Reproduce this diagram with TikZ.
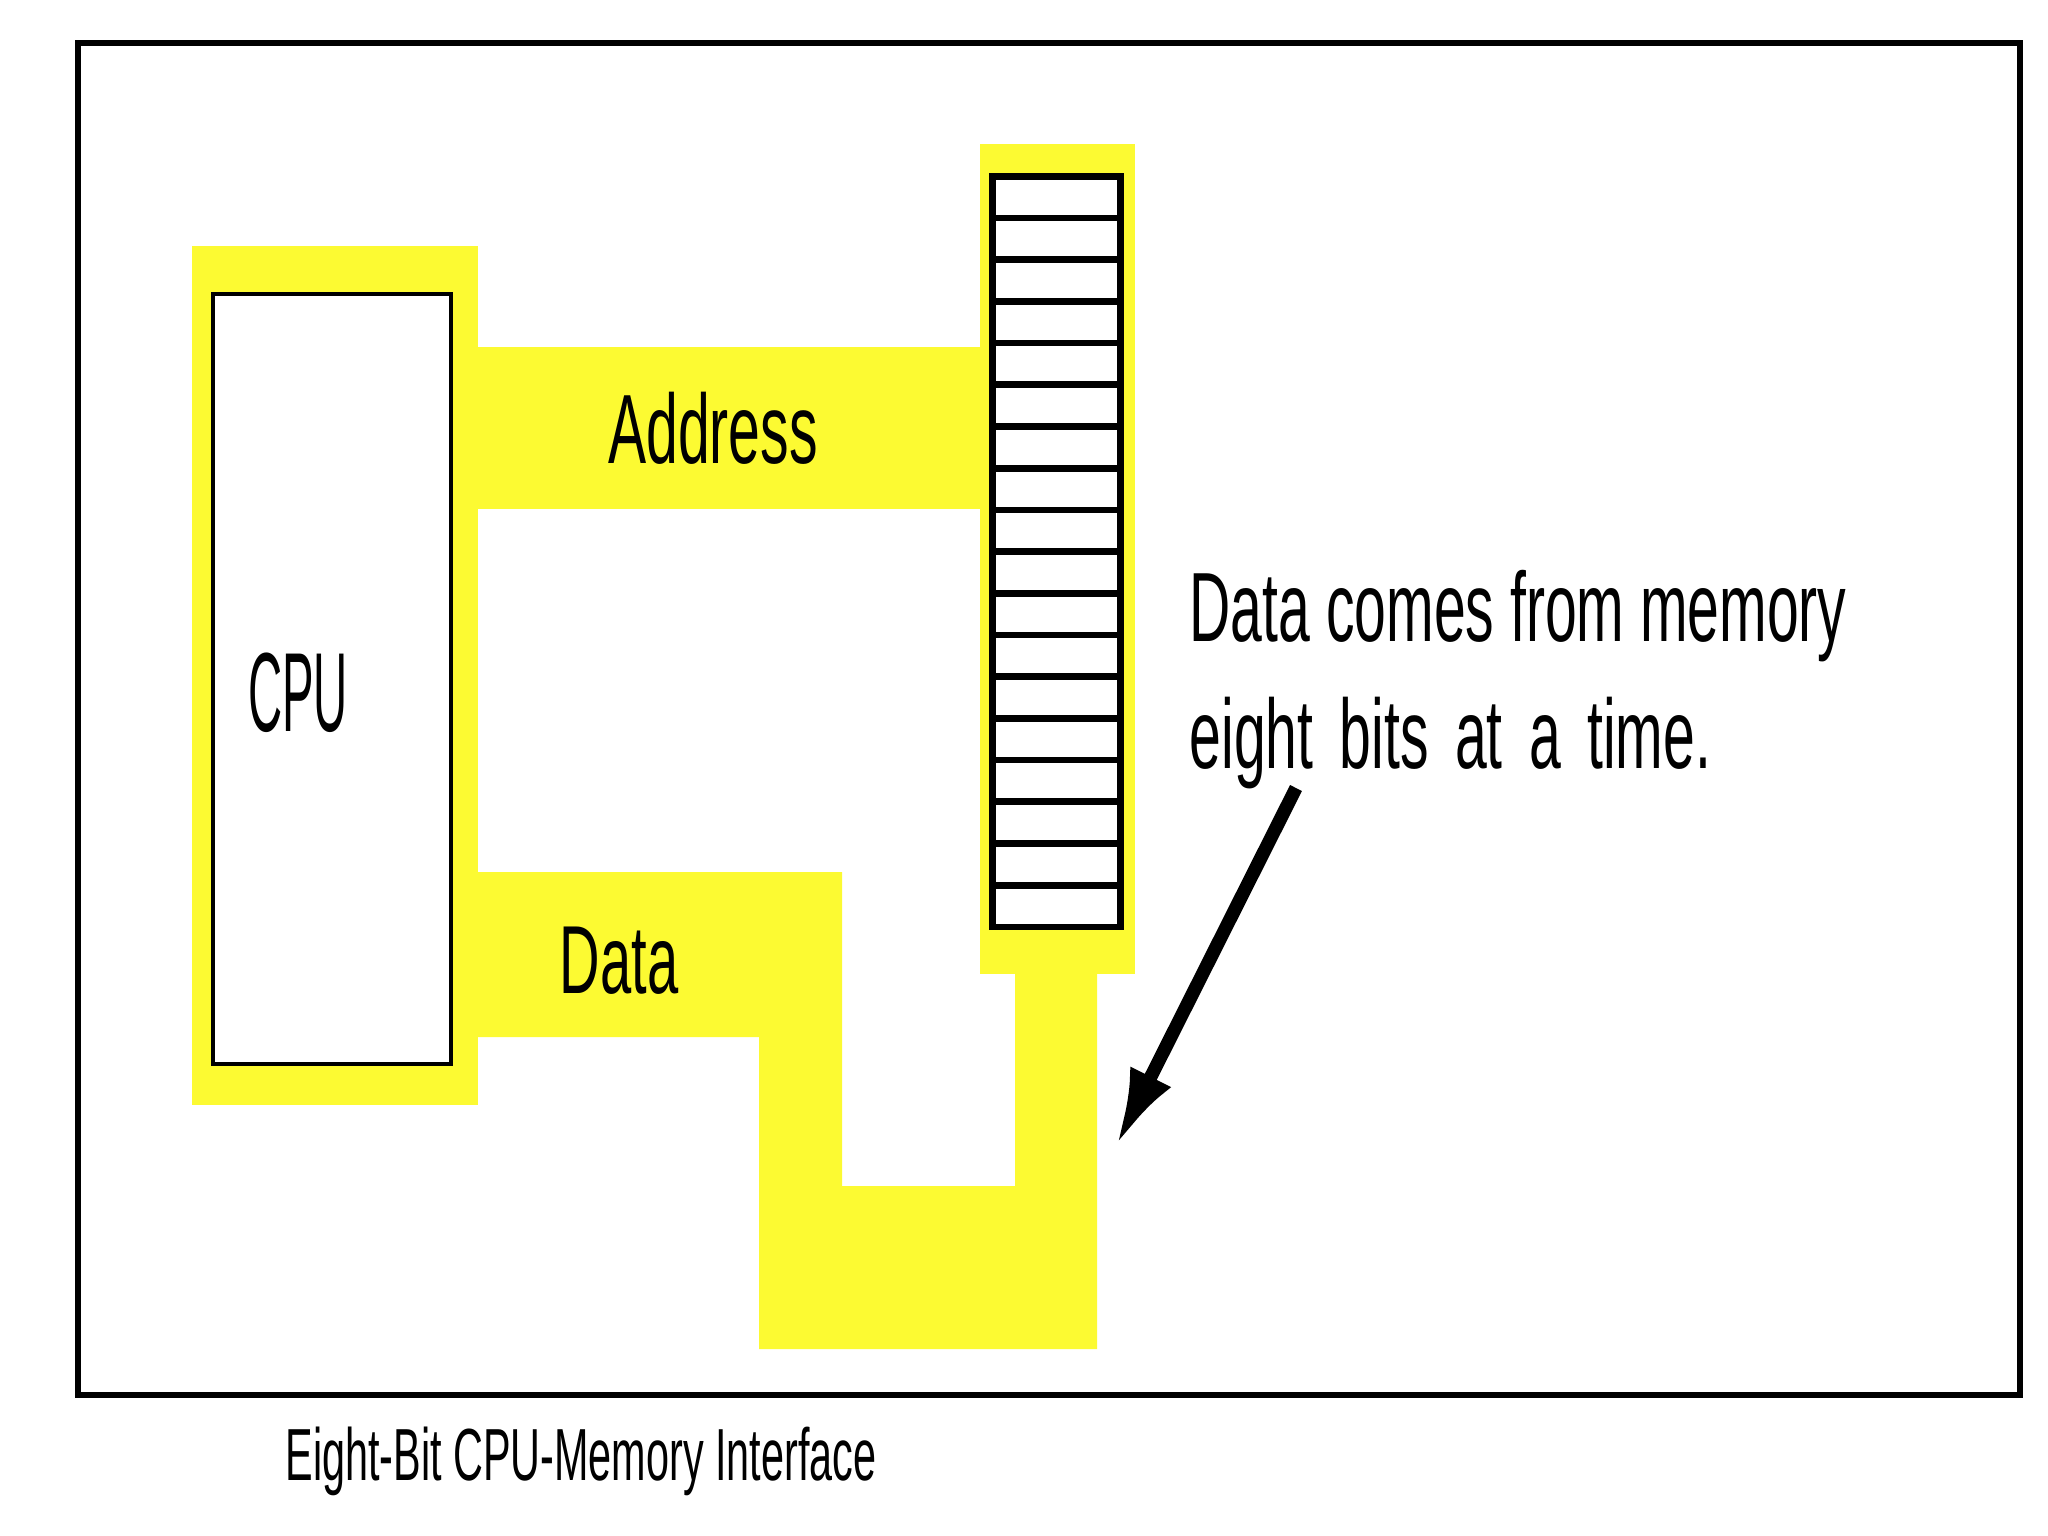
\documentclass[tikz,border=0pt]{standalone}
\usepackage{fontspec}
\setmainfont{Liberation Sans}
\newfontfamily\narrowfont[FakeStretch=0.58]{Liberation Sans}
\newfontfamily\capfont[FakeStretch=0.56]{Liberation Sans}
\newfontfamily\cpufont[FakeStretch=0.42]{Liberation Sans}
\usetikzlibrary{arrows.meta,positioning}
\definecolor{busyellow}{RGB}{252,250,50}
\tikzset{
bus/.style={
  fill=busyellow
  },
memcell/.style={
  draw,
  fill=white,
  line width=1.9pt,
  minimum width=1.28cm,
  minimum height=0.417cm,
  inner sep=0pt,
  outer sep=0pt
  },
cpubox/.style={
  draw,
  fill=white,
  line width=1.1pt,
  minimum width=2.38cm,
  minimum height=7.70cm,
  inner sep=0pt
  },
buslabel/.style={
  inner sep=0pt,
  font=\narrowfont\fontsize{28}{36}\selectfont
  }
}

\begin{document}
\begin{tikzpicture}[x=0.01cm,y=-0.01cm,>=latex]
\useasboundingbox (0,0) rectangle (2048,1536);

% frame
\draw[line width=1.5pt] (78,43) rectangle (2020,1395);

% yellow areas
\fill[bus] (192,246) rectangle (478,1105);
\fill[bus] (478,347) rectangle (980,509);
\fill[bus] (980,144) rectangle (1135,974);
\fill[bus] (478,872) -- (842,872) -- (842,1186) -- (1015,1186) -- (1015,974)
  -- (1097,974) -- (1097,1349) -- (759,1349) -- (759,1037) -- (478,1037) -- cycle;

\node[cpubox] (cpu) at (332,679) {};
\node[inner sep=0pt,font=\cpufont\fontsize{32}{36}\selectfont] (cpulbl) at (298,693) {CPU};

\foreach \i in {1,...,18}
  \node[memcell] (cell\i) at (1056.5,{176.3+41.7*(\i-0.5)}) {};

\node[buslabel] (addr) at (713,428) {Address};
\node[buslabel,font=\narrowfont\fontsize{27.5}{33}\selectfont] (data) at (619,961) {Data};

\node[buslabel,anchor=north west,align=left] (note) at (1189,570)
  {Data comes from memory\\eight\hspace{3pt} bits\hspace{3pt} at\hspace{3pt} a\hspace{3pt} time.};

\coordinate (tail) at (1296,788);
\coordinate (tip) at (1116,1146);
\draw[-{Latex[length=22pt,width=13pt]},line width=3.8pt] (tail) -- (tip);

\node[inner sep=0pt,anchor=base west,font=\capfont\fontsize{21}{25}\selectfont] (caption)
  at (285,1480) {Eight-Bit CPU-Memory Interface};

\end{tikzpicture}
\end{document}
